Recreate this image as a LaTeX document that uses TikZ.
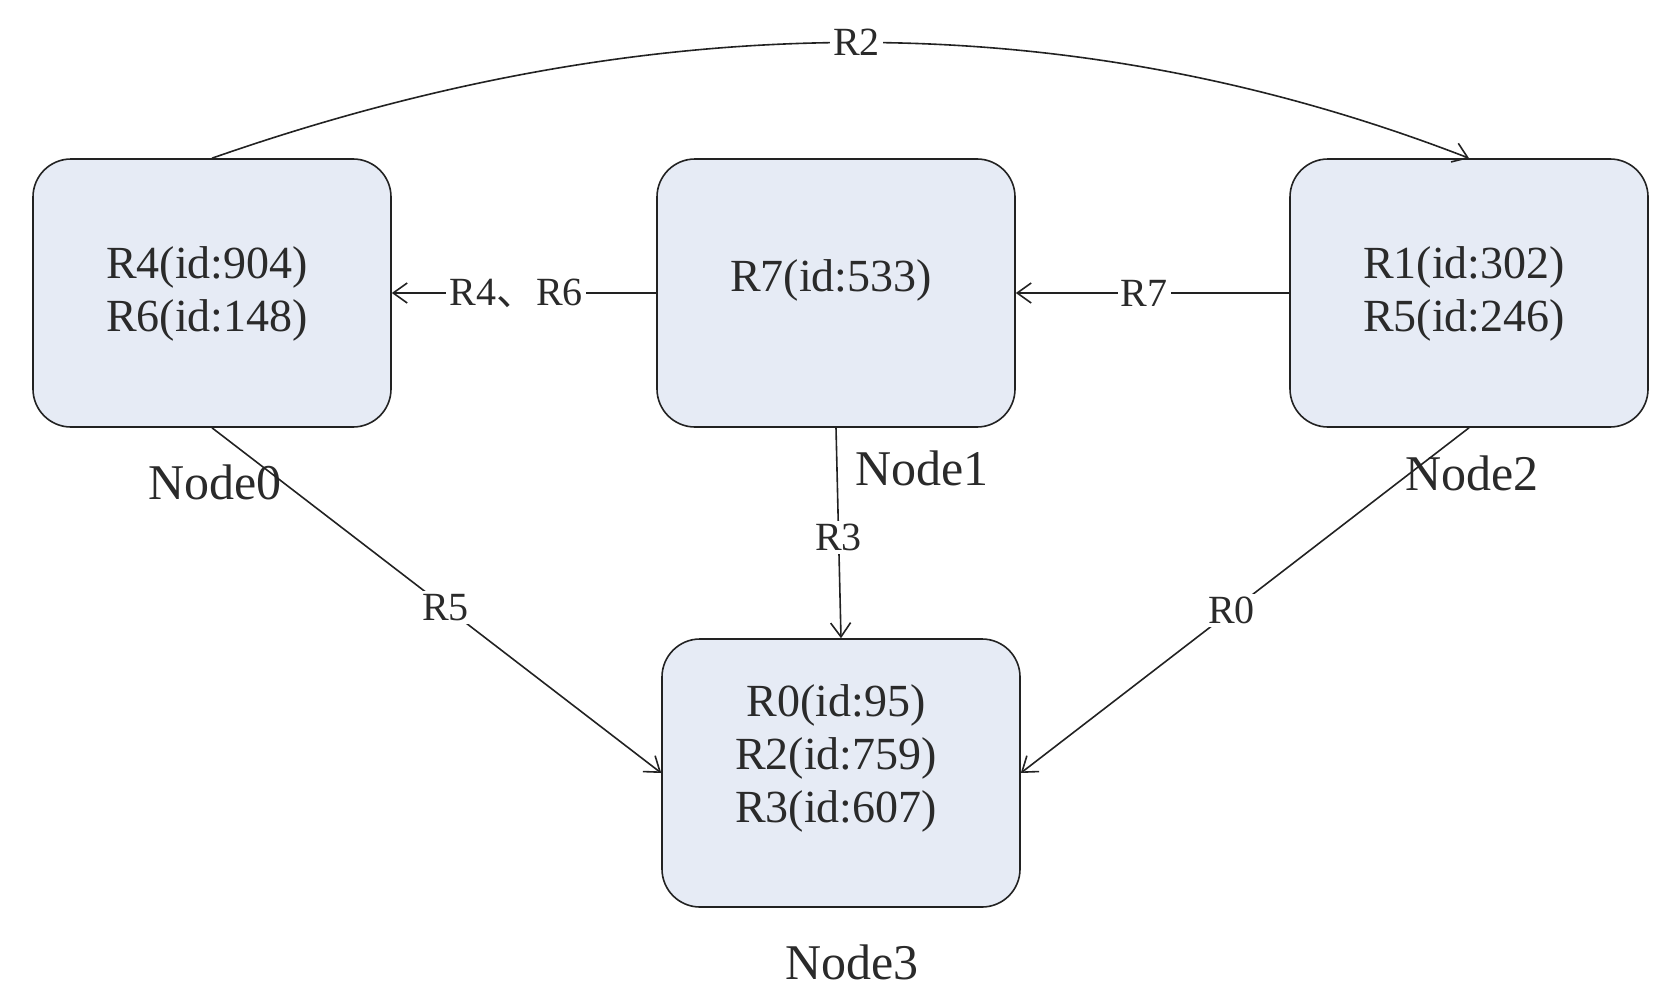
\documentclass[tikz,border=0pt]{standalone}
\usepackage{fontspec}
\setmainfont{Liberation Serif}
\newfontfamily\cjkfont{Noto Sans CJK SC}
\usepackage{tikz}
\usetikzlibrary{arrows.meta}
\definecolor{rsFill}{HTML}{E6EBF5}
\definecolor{rsLine}{HTML}{222222}
\definecolor{rsText}{HTML}{2A2A2A}

\begin{document}
\begin{tikzpicture}[x=0.5pt,y=-0.5pt,>={Straight Barb[length=7pt,width=10pt]},
    nodebox/.style={draw=rsLine,line width=0.8pt,rounded corners=19pt,fill=rsFill,minimum width=179pt,minimum height=134pt},
    boxtext/.style={align=center,font=\fontsize{23}{26.5}\selectfont,text=rsText},
    hostname/.style={font=\fontsize{25}{30}\selectfont,text=rsText},
    link/.style={->,line width=0.8pt,rsLine},
    linklabel/.style={fill=white,inner sep=1.5pt,font=\fontsize{20}{24}\selectfont,text=rsText}]

\useasboundingbox (0,0) rectangle (1679,1006);

% the four hosts
\node[nodebox] at (212,293) (n0) {};
\node[nodebox] at (836,293) (n1) {};
\node[nodebox] at (1469,293) (n2) {};
\node[nodebox] at (841,773) (n3) {};

% what each host holds
\node[boxtext] at (207,294) (t0) {R4(id:904)\\R6(id:148)};
\node[boxtext] at (831,280) (t1) {R7(id:533)};
\node[boxtext] at (1464,294) (t2) {R1(id:302)\\R5(id:246)};
\node[boxtext] at (836,758) (t3) {R0(id:95)\\R2(id:759)\\R3(id:607)};

% host names
\node[hostname] at (215,482) (l0) {Node0};
\node[hostname] at (922,468) (l1) {Node1};
\node[hostname] at (1472,473) (l2) {Node2};
\node[hostname] at (852,962) (l3) {Node3};

% moves
\draw[link] (n0.north) .. controls (653,4) and (1071,4) .. node[linklabel] {R2} (n2.north);
\draw[link] (n1.west) -- node[linklabel,pos=0.53] {R4{\cjkfont 、}R6} (n0.east);
\draw[link] (n2.west) -- node[linklabel,pos=0.53] {R7} (n1.east);
\draw[link] (n1.south) -- node[linklabel,pos=0.52] {R3} (n3.north);
\draw[link] (n0.south) -- node[linklabel,pos=0.52] {R5} (n3.west);
\draw[link] (n2.south) -- node[linklabel,pos=0.53] {R0} (n3.east);

\end{tikzpicture}
\end{document}
